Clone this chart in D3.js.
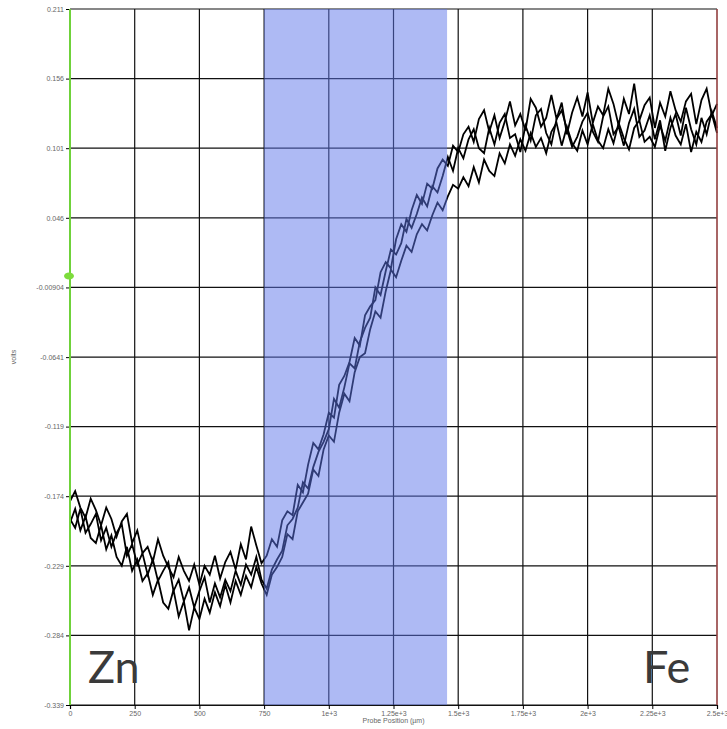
<!DOCTYPE html>
<html>
<head>
<meta charset="utf-8">
<script src="https://cdn.jsdelivr.net/npm/d3@7"></script>
<style>
  body { margin: 0; background: #fff; }
  svg { display: block; }
  .tick text { font-family: "Liberation Sans", Arial, sans-serif; font-size: 7px; fill: #666; }
  .lbl { font-family: "Liberation Sans", Arial, sans-serif; font-size: 7px; fill: #666; }
  .elem { font-family: "Lato", "Noto Sans", sans-serif; font-size: 45px; font-weight: 400; fill: #3a3a3a; }
</style>
</head>
<body>
<svg id="chart" width="727" height="729"></svg>
<script>

// probe positions step (um)
var xStep = 20;

// three line scans across the Zn/Fe interface, volts
var scanA = [
  -0.178, -0.170, -0.183, -0.191, -0.176, -0.185, -0.197, -0.183, -0.192, -0.206,
  -0.194, -0.188, -0.211, -0.201, -0.219, -0.214, -0.226, -0.208, -0.221, -0.230,
  -0.238, -0.222, -0.233, -0.241, -0.228, -0.244, -0.229, -0.236, -0.221, -0.239,
  -0.226, -0.218, -0.232, -0.212, -0.224, -0.198, -0.213, -0.227,
  -0.221, -0.208, -0.214, -0.193, -0.186, -0.189, -0.165, -0.171, -0.149, -0.132,
  -0.137, -0.125, -0.108, -0.112, -0.086, -0.079, -0.068, -0.049, -0.055, -0.031,
  -0.024, -0.019, 0.003, 0.011, 0.006, 0.029, 0.041, 0.035, 0.052, 0.064,
  0.057, 0.073, 0.069, 0.085, 0.092, 0.087, 0.103, 0.098,
  0.112, 0.118, 0.106, 0.124, 0.131, 0.114, 0.127, 0.109, 0.122, 0.138,
  0.119, 0.128, 0.115, 0.140, 0.133, 0.118, 0.125, 0.143, 0.124, 0.137,
  0.112, 0.129, 0.141, 0.126, 0.145, 0.121, 0.134, 0.127, 0.148, 0.136,
  0.119, 0.140, 0.128, 0.152, 0.123, 0.135, 0.141, 0.117, 0.137, 0.126,
  0.146, 0.131, 0.122, 0.138, 0.144, 0.120, 0.139, 0.148, 0.127, 0.136
];

var scanB = [
  -0.192, -0.199, -0.184, -0.203, -0.196, -0.188, -0.209, -0.199, -0.214, -0.203,
  -0.196, -0.221, -0.212, -0.228, -0.219, -0.236, -0.224, -0.241, -0.233, -0.226,
  -0.249, -0.240, -0.257, -0.246, -0.262, -0.249, -0.238, -0.258, -0.243, -0.254,
  -0.240, -0.249, -0.233, -0.244, -0.228, -0.236, -0.222, -0.240,
  -0.247, -0.232, -0.224, -0.217, -0.197, -0.192, -0.183, -0.163, -0.168, -0.151,
  -0.139, -0.131, -0.121, -0.097, -0.104, -0.088, -0.069, -0.073, -0.052, -0.041,
  -0.033, -0.009, -0.015, 0.004, 0.021, 0.017, 0.026, 0.045, 0.038, 0.049,
  0.062, 0.055, 0.071, 0.066, 0.079, 0.094, 0.083, 0.101,
  0.093, 0.108, 0.116, 0.101, 0.097, 0.117, 0.104, 0.121, 0.128, 0.109,
  0.112, 0.098, 0.119, 0.107, 0.127, 0.132, 0.113, 0.104, 0.124, 0.131,
  0.116, 0.102, 0.110, 0.122, 0.129, 0.114, 0.106, 0.126, 0.134, 0.112,
  0.118, 0.103, 0.121, 0.132, 0.110, 0.115, 0.127, 0.108, 0.123, 0.099,
  0.117, 0.128, 0.111, 0.133, 0.116, 0.104, 0.125, 0.112, 0.130, 0.117
];

var scanC = [
  -0.195, -0.184, -0.201, -0.190, -0.207, -0.211, -0.197, -0.216, -0.205, -0.222,
  -0.229, -0.214, -0.233, -0.224, -0.241, -0.235, -0.252, -0.240, -0.258, -0.263,
  -0.248, -0.269, -0.257, -0.280, -0.262, -0.271, -0.255, -0.266, -0.250, -0.261,
  -0.244, -0.258, -0.241, -0.252, -0.237, -0.246, -0.230, -0.243,
  -0.252, -0.236, -0.230, -0.222, -0.204, -0.208, -0.186, -0.179, -0.172, -0.153,
  -0.158, -0.137, -0.126, -0.131, -0.108, -0.093, -0.099, -0.076, -0.064, -0.061,
  -0.042, -0.028, -0.033, -0.012, 0.005, -0.001, 0.012, 0.024, 0.019, 0.033,
  0.041, 0.036, 0.048, 0.058, 0.052, 0.063, 0.072, 0.069,
  0.078, 0.071, 0.086, 0.074, 0.092, 0.083, 0.079, 0.097, 0.089, 0.104,
  0.095, 0.108, 0.099, 0.113, 0.102, 0.109, 0.097, 0.114, 0.121, 0.103,
  0.118, 0.105, 0.099, 0.115, 0.104, 0.120, 0.107, 0.101, 0.116, 0.105,
  0.121, 0.109, 0.100, 0.117, 0.123, 0.106, 0.110, 0.102, 0.119, 0.107,
  0.125, 0.111, 0.104, 0.120, 0.098, 0.114, 0.106, 0.122, 0.128, 0.113
];

var xTicks = [0, 250, 500, 750, 1000, 1250, 1500, 1750, 2000, 2250, 2500];
var xTickLabels = ["0", "250", "500", "750", "1e+3", "1.25e+3", "1.5e+3", "1.75e+3", "2e+3", "2.25e+3", "2.5e+3"];
var yTicks = [-0.339, -0.284, -0.229, -0.174, -0.119, -0.0641, -0.00904, 0.046, 0.101, 0.156, 0.211];
var yTickLabels = ["-0.339", "-0.284", "-0.229", "-0.174", "-0.119", "-0.0641", "-0.00904", "0.046", "0.101", "0.156", "0.211"];

// selected interface region (um)
var selection = [750, 1457];
// cursor marker on the y axis (volts)
var cursorY = 0.0;

var margin = {top: 9, right: 10, bottom: 24, left: 70};
var svg = d3.select("#chart");
var width = 727 - margin.left - margin.right;
var height = 729 - margin.top - margin.bottom;

var x = d3.scaleLinear().domain([0, 2500]).range([0, width]);
var y = d3.scaleLinear().domain([-0.339, 0.211]).range([height, 0]);

var g = svg.append("g")
  .attr("transform", "translate(" + margin.left + "," + margin.top + ")");

// grid
g.append("g").selectAll("line")
  .data(xTicks)
  .enter().append("line")
  .attr("x1", function(d) { return x(d); })
  .attr("x2", function(d) { return x(d); })
  .attr("y1", 0).attr("y2", height)
  .attr("stroke", "#111").attr("stroke-width", 1.2);

g.append("g").selectAll("line")
  .data(yTicks)
  .enter().append("line")
  .attr("x1", 0).attr("x2", width)
  .attr("y1", function(d) { return y(d); })
  .attr("y2", function(d) { return y(d); })
  .attr("stroke", "#111").attr("stroke-width", 1.2);

// traces
var line = d3.line()
  .x(function(d, i) { return x(i * xStep); })
  .y(function(d) { return y(d); });

[scanA, scanB, scanC].forEach(function(s) {
  g.append("path")
    .datum(s)
    .attr("fill", "none")
    .attr("stroke", "#000")
    .attr("stroke-width", 1.8)
    .attr("d", line);
});

// selection overlay
g.append("rect")
  .attr("x", x(selection[0]))
  .attr("y", 0)
  .attr("width", x(selection[1]) - x(selection[0]))
  .attr("height", height)
  .attr("fill", "rgb(94,118,234)")
  .attr("fill-opacity", 0.5);

// axes
var xAxis = d3.axisBottom(x)
  .tickValues(xTicks)
  .tickFormat(function(d, i) { return xTickLabels[i]; })
  .tickSize(4).tickPadding(2);

var yAxis = d3.axisLeft(y)
  .tickValues(yTicks)
  .tickFormat(function(d, i) { return yTickLabels[i]; })
  .tickSize(4).tickPadding(2);

var gx = g.append("g")
  .attr("transform", "translate(0," + height + ")")
  .call(xAxis);
gx.select(".domain").attr("stroke", "#111").attr("stroke-width", 1.2);

var gy = g.append("g").call(yAxis);
gy.select(".domain").remove();

// coloured edges
g.append("line")
  .attr("x1", 0).attr("x2", 0).attr("y1", 0).attr("y2", height)
  .attr("stroke", "#6fd23a").attr("stroke-width", 2);
g.append("line")
  .attr("x1", width).attr("x2", width).attr("y1", 0).attr("y2", height)
  .attr("stroke", "#e05a5a").attr("stroke-width", 1);

g.append("ellipse")
  .attr("cx", -1).attr("cy", y(cursorY))
  .attr("rx", 5).attr("ry", 3.5)
  .attr("fill", "#7ddc3c");

// axis titles
svg.append("text")
  .attr("class", "lbl")
  .attr("text-anchor", "middle")
  .attr("transform", "translate(16," + (margin.top + height / 2) + ") rotate(-90)")
  .text("volts");

svg.append("text")
  .attr("class", "lbl")
  .attr("text-anchor", "middle")
  .attr("x", margin.left + width / 2)
  .attr("y", 723)
  .text("Probe Position (\u00b5m)");

// element labels
g.append("text").attr("class", "elem")
  .attr("x", 18).attr("y", height - 22)
  .text("Zn");
g.append("text").attr("class", "elem")
  .attr("x", width - 74).attr("y", height - 22)
  .text("Fe");

</script>
</body>
</html>
